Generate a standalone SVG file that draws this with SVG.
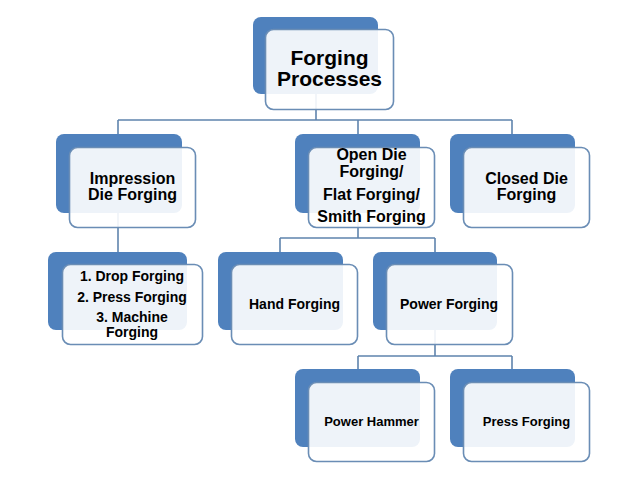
<svg xmlns="http://www.w3.org/2000/svg" width="638" height="479" viewBox="0 0 638 479">
<style>
.back{fill:#4f81bd;}
.front{fill:#ffffff;fill-opacity:0.9;stroke:#6a8db5;stroke-width:1.6;}
.conn{fill:none;stroke:#5f84ad;stroke-width:1.6;}
text{font-family:"Liberation Sans",Arial,sans-serif;font-weight:bold;fill:#000;text-anchor:middle;}
.t21{font-size:21px;}
.t16{font-size:16px;}
.t14{font-size:14px;}
.t13{font-size:13px;}
</style>
<rect width="638" height="479" fill="#ffffff"/>
<g id="connectors">
<path class="conn" d="M316 93 V120 M118 120 H512 M118 120 V134 M358 120 V134 M512 120 V134"/>
<path class="conn" d="M118 213 V252"/>
<path class="conn" d="M358 213 V238 M280 238 H435 M280 238 V252 M435 238 V252"/>
<path class="conn" d="M435 330 V356 M358 356 H512 M358 356 V369 M512 356 V369"/>
</g>
<g id="forging-processes">
<rect class="back" x="253" y="17" width="125" height="77" rx="8"/>
<rect class="front" x="265.5" y="29.5" width="128" height="80" rx="8"/>
<text class="t21" x="329.5" y="65">Forging</text>
<text class="t21" x="329.5" y="86">Processes</text>
</g>
<g id="impression-die">
<rect class="back" x="56" y="134" width="126" height="79" rx="8"/>
<rect class="front" x="69.5" y="147.5" width="126" height="80" rx="8"/>
<text class="t16" x="132.5" y="184">Impression</text>
<text class="t16" x="132.5" y="200">Die Forging</text>
</g>
<g id="open-die">
<rect class="back" x="295" y="134" width="125" height="79" rx="8"/>
<rect class="front" x="308.5" y="147.5" width="126" height="80" rx="8"/>
<text class="t16" x="371.5" y="160">Open Die</text>
<text class="t16" x="371.5" y="177">Forging/</text>
<text class="t16" x="371.5" y="200">Flat Forging/</text>
<text class="t16" x="371.5" y="222">Smith Forging</text>
</g>
<g id="closed-die">
<rect class="back" x="450" y="134" width="125" height="79" rx="8"/>
<rect class="front" x="463.5" y="147.5" width="126" height="80" rx="8"/>
<text class="t16" x="526.5" y="184">Closed Die</text>
<text class="t16" x="526.5" y="200">Forging</text>
</g>
<g id="impression-list">
<rect class="back" x="48" y="252" width="139" height="78" rx="8"/>
<rect class="front" x="62.5" y="264.5" width="140" height="80" rx="8"/>
<text class="t14" x="132" y="281">1. Drop Forging</text>
<text class="t14" x="132" y="301.5">2. Press Forging</text>
<text class="t14" x="132" y="321.5">3. Machine</text>
<text class="t14" x="132" y="336.5">Forging</text>
</g>
<g id="hand-forging">
<rect class="back" x="218" y="252" width="125" height="78" rx="8"/>
<rect class="front" x="231.5" y="264.5" width="126" height="80" rx="8"/>
<text class="t14" x="294.5" y="309">Hand Forging</text>
</g>
<g id="power-forging">
<rect class="back" x="373" y="252" width="124" height="78" rx="8"/>
<rect class="front" x="386.5" y="264.5" width="126" height="80" rx="8"/>
<text class="t14" x="449" y="309">Power Forging</text>
</g>
<g id="power-hammer">
<rect class="back" x="295" y="369" width="125" height="78" rx="8"/>
<rect class="front" x="308.5" y="382.5" width="126" height="79" rx="8"/>
<text class="t13" x="371.5" y="426">Power Hammer</text>
</g>
<g id="press-forging">
<rect class="back" x="450" y="369" width="125" height="78" rx="8"/>
<rect class="front" x="463.5" y="382.5" width="126" height="79" rx="8"/>
<text class="t13" x="526.5" y="426">Press Forging</text>
</g>
</svg>
